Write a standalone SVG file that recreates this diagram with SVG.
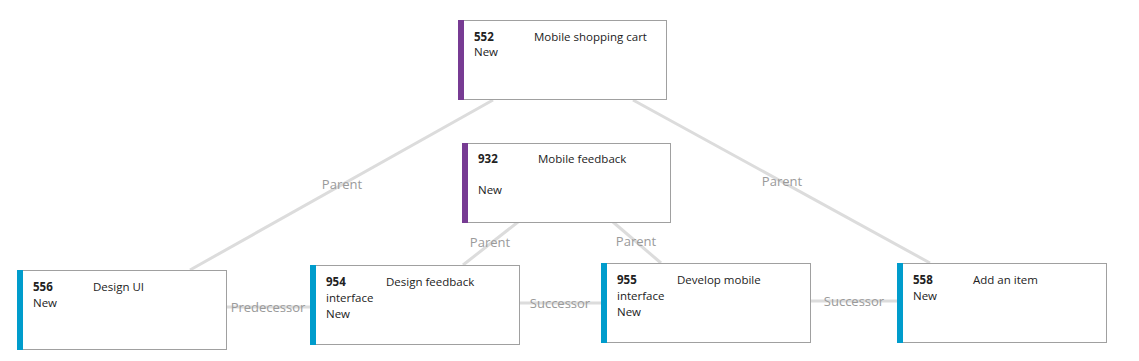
<svg xmlns="http://www.w3.org/2000/svg" width="1139" height="361" viewBox="0 0 1139 361">
<style>
.box{fill:#fff;stroke:#a0a0a0;stroke-width:1}
.feat{fill:#773B93}
.story{fill:#009CCC}
text{font-family:"Open Sans","Noto Sans",sans-serif;font-size:11.5px;fill:#222}
.id{font-weight:bold}
.conn{stroke:#dcdcdc;stroke-width:3;fill:none}
.lbl{fill:#9a9a9a;font-size:13px;text-anchor:middle}
</style>
<rect width="1139" height="361" fill="#fff"/>
<g id="connectors">
<line class="conn" x1="493" y1="100" x2="190" y2="270"/>
<line class="conn" x1="633" y1="100" x2="930" y2="263"/>
<line class="conn" x1="518" y1="222" x2="463" y2="265"/>
<line class="conn" x1="613" y1="222" x2="661" y2="263"/>
<line class="conn" x1="227" y1="307" x2="310" y2="307"/>
<line class="conn" x1="520" y1="303" x2="601" y2="303"/>
<line class="conn" x1="811" y1="301" x2="897" y2="301"/>
<text class="lbl" x="342" y="189">Parent</text>
<text class="lbl" x="782" y="186">Parent</text>
<text class="lbl" x="490" y="247">Parent</text>
<text class="lbl" x="636" y="246">Parent</text>
<text class="lbl" x="268" y="312">Predecessor</text>
<text class="lbl" x="560" y="308">Successor</text>
<text class="lbl" x="854" y="306">Successor</text>
</g>
<g id="n552">
<rect class="box" x="458.5" y="20.5" width="208" height="79"/>
<rect class="feat" x="458" y="20" width="6" height="80"/>
<text class="id" x="474" y="41">552</text>
<text x="534" y="41">Mobile shopping cart</text>
<text x="474" y="56">New</text>
</g>
<g id="n932">
<rect class="box" x="462.5" y="143.5" width="208" height="79"/>
<rect class="feat" x="462" y="143" width="6" height="80"/>
<text class="id" x="478" y="163">932</text>
<text x="538" y="163">Mobile feedback</text>
<text x="478" y="194">New</text>
</g>
<g id="n556">
<rect class="box" x="17.5" y="270.5" width="209" height="79"/>
<rect class="story" x="17" y="270" width="6" height="80"/>
<text class="id" x="33" y="291">556</text>
<text x="93" y="291">Design UI</text>
<text x="33" y="307">New</text>
</g>
<g id="n954">
<rect class="box" x="310.5" y="265.5" width="209" height="79"/>
<rect class="story" x="310" y="265" width="6" height="80"/>
<text class="id" x="326" y="286">954</text>
<text x="386" y="286">Design feedback</text>
<text x="326" y="302">interface</text>
<text x="326" y="318">New</text>
</g>
<g id="n955">
<rect class="box" x="601.5" y="263.5" width="209" height="79"/>
<rect class="story" x="601" y="263" width="6" height="80"/>
<text class="id" x="617" y="284">955</text>
<text x="677" y="284">Develop mobile</text>
<text x="617" y="300">interface</text>
<text x="617" y="316">New</text>
</g>
<g id="n558">
<rect class="box" x="897.5" y="263.5" width="209" height="79"/>
<rect class="story" x="897" y="263" width="6" height="80"/>
<text class="id" x="913" y="284">558</text>
<text x="973" y="284">Add an item</text>
<text x="913" y="300">New</text>
</g>
</svg>
